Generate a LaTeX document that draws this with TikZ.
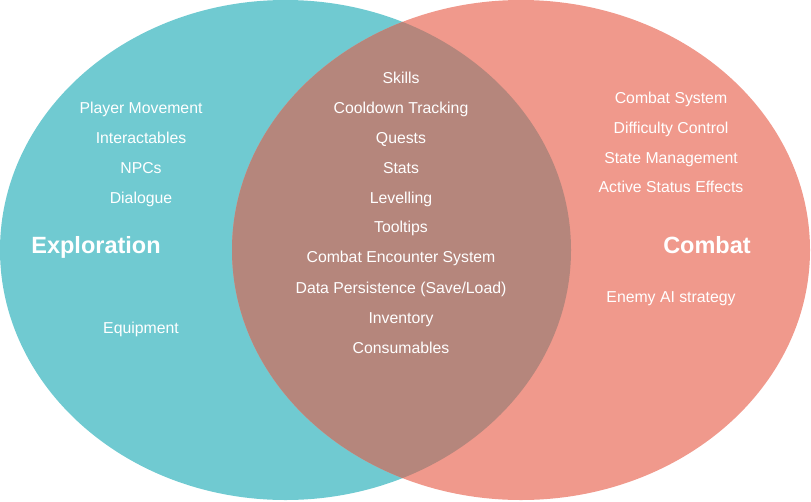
\documentclass[tikz,border=0pt]{standalone}
\usepackage{fontspec}
\setmainfont{Liberation Sans}
\definecolor{expl}{HTML}{70CAD1}
\definecolor{comb}{HTML}{F0998C}
\definecolor{both}{HTML}{B5867C}
\begin{document}
\begin{tikzpicture}[x=1pt,y=-1pt,
  item/.style={text=white,font=\fontsize{15.8}{17}\selectfont,inner sep=0pt,anchor=base,yshift=-5.6pt},
  head/.style={text=white,font=\fontsize{23.5}{25}\selectfont\bfseries,inner sep=0pt,anchor=base,yshift=-8.4pt}]
\useasboundingbox (0,0) rectangle (811,501);
\fill[expl] (285.5,250) ellipse [x radius=285.5pt, y radius=250pt];
\fill[comb] (521,250) ellipse [x radius=289pt, y radius=250pt];
\begin{scope}
\clip (285.5,250) ellipse [x radius=285.5pt, y radius=250pt];
\fill[both] (521,250) ellipse [x radius=289pt, y radius=250pt];
\end{scope}
% centre
\node[item] (skills) at (401,78) {Skills};
\node[item] (cool) at (401,108) {Cooldown Tracking};
\node[item] (quests) at (401,138) {Quests};
\node[item] (stats) at (401,168) {Stats};
\node[item] (lev) at (401,198) {Levelling};
\node[item] (tool) at (401,227) {Tooltips};
\node[item] (ces) at (401,257) {Combat Encounter System};
\node[item] (dp) at (401,288) {Data Persistence (Save/Load)};
\node[item] (inv) at (401,318) {Inventory};
\node[item] (cons) at (401,348) {Consumables};
% left
\node[item] (pm) at (141,108) {Player Movement};
\node[item] (inter) at (141,138) {Interactables};
\node[item] (npc) at (141,168) {NPCs};
\node[item] (dia) at (141,198) {Dialogue};
\node[item] (equip) at (141,328) {Equipment};
\node[head] (exp) at (96,245) {Exploration};
% right
\node[item] (cs) at (671,98) {Combat System};
\node[item] (dc) at (671,128) {Difficulty Control};
\node[item] (sm) at (671,158) {State Management};
\node[item] (ase) at (671,187) {Active Status Effects};
\node[item] (eai) at (671,297) {Enemy AI strategy};
\node[head] (com) at (707,245) {Combat};
\end{tikzpicture}
\end{document}
